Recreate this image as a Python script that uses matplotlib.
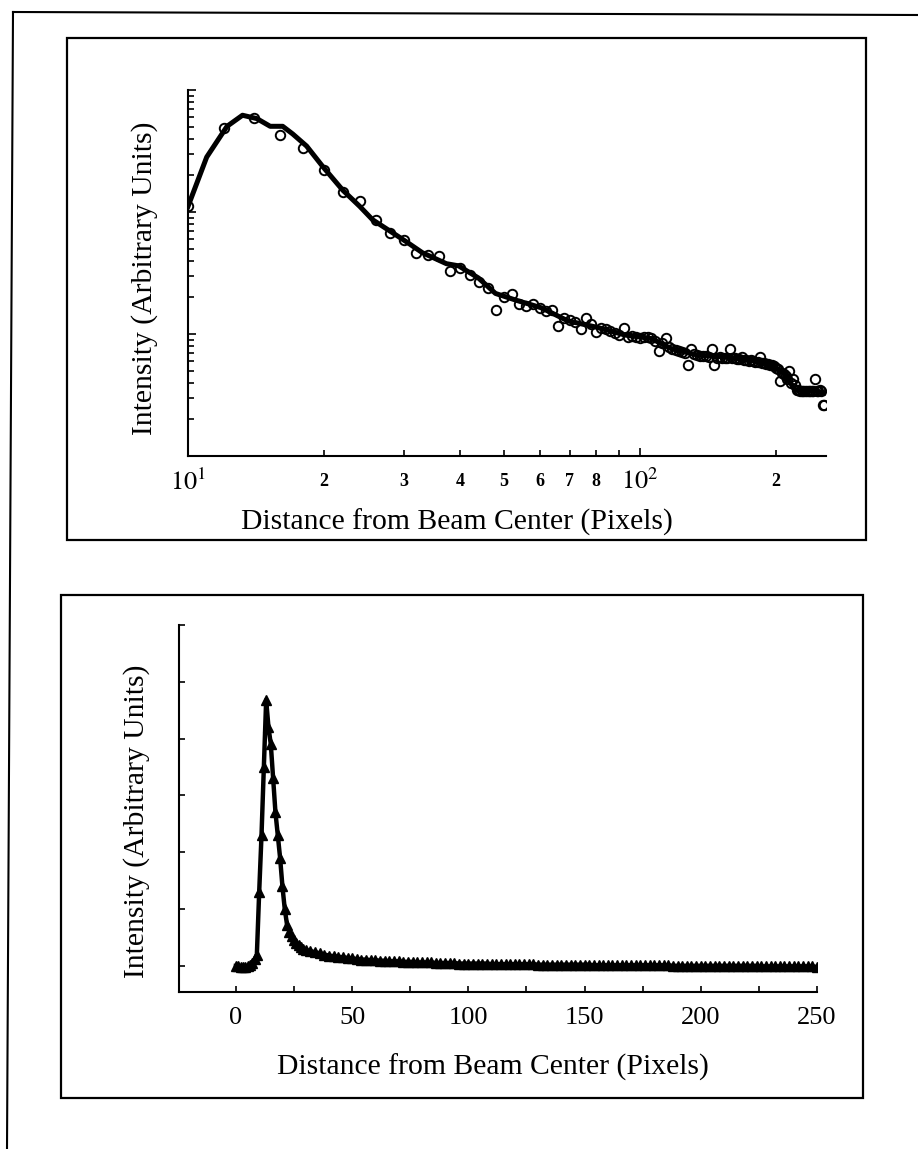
import numpy as np
import matplotlib
matplotlib.use("Agg")
import matplotlib.pyplot as plt
from matplotlib.lines import Line2D
from matplotlib.patches import Rectangle
from matplotlib.ticker import FixedLocator, NullFormatter, LogLocator

plt.rcParams["font.family"] = ["Liberation Serif", "DejaVu Serif"]
plt.rcParams["mathtext.fontset"] = "stix"

# ---- upper panel: log-log profile (circles = data, line = smoothed fit)
fit_x = [10, 11.0, 12.2, 13.2, 14.2, 15.2, 16.2, 17.05, 18.3, 19.9, 22.0, 24.0,
         25.6, 27.9, 30.4, 33.0, 37.3, 39.7, 43.9, 47.9, 53.0, 60.5, 69.3, 80.8,
         92.7, 105.8, 117.1, 134.3, 154, 175.8, 194.6, 209, 220, 247, 256]
fit_y = [111, 282, 504, 621, 583, 504, 504, 436, 347, 234, 151, 111,
         86.5, 70.3, 57.1, 46.4, 37.7, 36.2, 28.8, 21.5, 19.0, 16.4, 12.8, 11.3,
         9.8, 9.2, 7.6, 6.7, 6.5, 6.1, 5.6, 4.7, 3.5, 3.4, 3.3]

circ_x = np.arange(10, 257, 2)
circ_y = [111, 484, 595, 427, 333, 220, 145, 123, 86.5, 67.4,
          59.5, 46.4, 44.5, 43.6, 32.6, 35, 30.6, 26.5, 24, 15.8,
          20, 21.1, 17.5, 17, 17.5, 16.4, 15.5, 15.8, 11.6, 13.4,
          13, 12.6, 10.9, 13.4, 12, 10.4, 11.2, 11, 10.5, 10.2,
          9.8, 11.3, 9.4, 9.6, 9.5, 9.3, 9.4, 9.4, 9.2, 8.8,
          7.2, 8.4, 9.2, 7.8, 7.6, 7.4, 7.3, 7.1, 7.0, 5.6,
          7.5, 6.8, 6.7, 6.6, 6.6, 6.6, 6.5, 7.5, 5.6, 6.4,
          6.5, 6.4, 6.4, 6.3, 7.5, 6.3, 6.3, 6.2, 6.2, 6.5,
          6.1, 6.1, 6.0, 6.1, 6.0, 5.9, 5.9, 6.5, 5.8, 5.8,
          5.7, 5.7, 5.6, 5.6, 5.5, 5.3, 5.2, 4.1, 4.8, 4.7,
          4.5, 4.3, 5.0, 4.0, 4.3, 3.8, 3.5, 3.5, 3.4, 3.4,
          3.4, 3.4, 3.4, 3.4, 3.4, 3.4, 3.4, 4.3, 3.4, 3.4,
          3.5, 3.4, 2.6, 2.6]

# ---- lower panel: linear profile
peak_x = np.arange(0, 31)
peak_y = [0.0, 0.0, -0.02, -0.02, -0.02, 0.0, 0.02, 0.05, 0.12, 0.2,
          1.3, 2.3, 3.5, 4.68, 4.2, 3.9, 3.3, 2.7, 2.3, 1.9,
          1.4, 1.0, 0.72, 0.6, 0.52, 0.45, 0.4, 0.36, 0.33, 0.3,
          0.28]
tail_x = np.arange(32, 251, 2)
tail_y = [0.26, 0.24, 0.22, 0.2, 0.18, 0.17, 0.16, 0.15, 0.14, 0.13,
          0.12, 0.11, 0.11, 0.1, 0.1, 0.09, 0.09, 0.08, 0.08, 0.08,
          0.07, 0.07, 0.07, 0.06, 0.06, 0.06, 0.06, 0.05, 0.05, 0.05,
          0.05, 0.05, 0.04, 0.04, 0.04,
          0.04, 0.04, 0.04, 0.04, 0.03, 0.03, 0.03, 0.03, 0.03, 0.03,
          0.03, 0.03, 0.03, 0.03, 0.02, 0.02, 0.02, 0.02, 0.02, 0.02,
          0.02, 0.02, 0.02, 0.02, 0.02, 0.02, 0.01, 0.01, 0.01, 0.01,
          0.01, 0.01, 0.01, 0.01, 0.01, 0.01, 0.01, 0.01, 0.01, 0.01,
          0.01, 0.01, 0.01, 0.0, 0.0, 0.0, 0.0, 0.0, 0.0, 0.0,
          0.0, 0.0, 0.0, 0.0, 0.0, 0.0, 0.0, 0.0, 0.0, 0.0,
          0.0, 0.0, -0.01, -0.01, -0.01, -0.01, -0.01, -0.01, -0.01, -0.01,
          -0.01, -0.01, -0.01, -0.01, -0.02]
prof_x = np.concatenate([peak_x, tail_x])
prof_y = np.concatenate([peak_y, tail_y])

xlabel = "Distance from Beam Center (Pixels)"
ylabel = "Intensity (Arbitrary Units)"

W, H = 918, 1149
fig = plt.figure(figsize=(W / 100, H / 100), dpi=100)


def fx(px):
    return px / W


def fy(py):
    return 1 - py / H


# outer frame (only top and left edges visible on the scan)
fig.add_artist(Line2D([fx(13), fx(918)], [fy(12), fy(15)], color="black", lw=1.5))
fig.add_artist(Line2D([fx(13), fx(7)], [fy(12), fy(1149)], color="black", lw=1.5))

# panel boxes
for (l, t, r, b) in [(67, 38, 866, 540), (61, 595, 863, 1098)]:
    fig.add_artist(Rectangle((fx(l), fy(b)), fx(r) - fx(l), fy(t) - fy(b),
                             fill=False, lw=1.6, ec="black",
                             transform=fig.transFigure))

# ---------------- upper axes
ax1 = fig.add_axes([fx(188), fy(456), fx(826) - fx(188), fy(90) - fy(456)])
ax1.plot(fit_x, fit_y, color="black", lw=3.6, zorder=2)
ax1.plot(circ_x, circ_y, ls="none", marker="o", ms=6.8, mfc="none",
         mec="black", mew=1.4, zorder=3)
ax1.set_xscale("log")
ax1.set_yscale("log")
ax1.set_xlim(10, 258)
ax1.set_ylim(1, 1000)

ax1.xaxis.set_major_locator(FixedLocator([10, 100]))
ax1.set_xticklabels([r"$10^1$", r"$10^2$"], fontsize=19)
minor_x = [20, 30, 40, 50, 60, 70, 80, 90, 200]
ax1.xaxis.set_minor_locator(FixedLocator(minor_x))
ax1.set_xticklabels(["2", "3", "4", "5", "6", "7", "8", "", "2"],
                    minor=True, fontsize=13, fontweight="bold")
ax1.yaxis.set_major_locator(LogLocator(base=10, numticks=10))
ax1.yaxis.set_minor_locator(LogLocator(base=10, subs=np.arange(2, 10), numticks=10))
ax1.yaxis.set_major_formatter(NullFormatter())
ax1.yaxis.set_minor_formatter(NullFormatter())

ax1.tick_params(axis="both", which="both", direction="in", width=1.2)
ax1.tick_params(axis="both", which="major", length=6)
ax1.tick_params(axis="both", which="minor", length=4)
ax1.tick_params(axis="x", which="major", pad=9)
ax1.tick_params(axis="x", which="minor", pad=12)

ax1.set_xlabel(xlabel, fontsize=21.3)
ax1.xaxis.label.set_va("center")
ax1.xaxis.set_label_coords((457 - 188) / 638, (456 - 522) / 366)
ax1.set_ylabel(ylabel, fontsize=21.3)
ax1.yaxis.label.set_va("center")
ax1.yaxis.set_label_coords((145 - 188) / 638, (456 - 278) / 366)

# ---------------- lower axes
ax2 = fig.add_axes([fx(179), fy(992), fx(817) - fx(179), fy(625) - fy(992)])
ax2.plot(prof_x, prof_y, color="black", lw=3.2, marker="^", ms=7,
         mfc="black", mec="black")
ax2.set_xlim(-24.5, 250)
ax2.set_ylim(-0.46, 6)
ax2.set_xticks([0, 50, 100, 150, 200, 250])
ax2.set_xticks([25, 75, 125, 175, 225], minor=True)
ax2.set_yticks([0, 1, 2, 3, 4, 5, 6])
ax2.set_yticklabels([])
ax2.tick_params(axis="both", which="both", direction="in", width=1.2, length=4)
ax2.tick_params(axis="x", which="major", labelsize=19, pad=11)

ax2.set_xlabel(xlabel, fontsize=21.3)
ax2.xaxis.label.set_va("center")
ax2.xaxis.set_label_coords((493 - 179) / 638, (992 - 1067) / 367)
ax2.set_ylabel(ylabel, fontsize=21.3)
ax2.yaxis.label.set_va("center")
ax2.yaxis.set_label_coords((137 - 179) / 638, (992 - 821) / 367)

for ax in (ax1, ax2):
    ax.spines["top"].set_visible(False)
    ax.spines["right"].set_visible(False)
    ax.spines["left"].set_linewidth(1.5)
    ax.spines["bottom"].set_linewidth(1.5)
    ax.patch.set_alpha(0)

fig.savefig("out.png", dpi=100)
